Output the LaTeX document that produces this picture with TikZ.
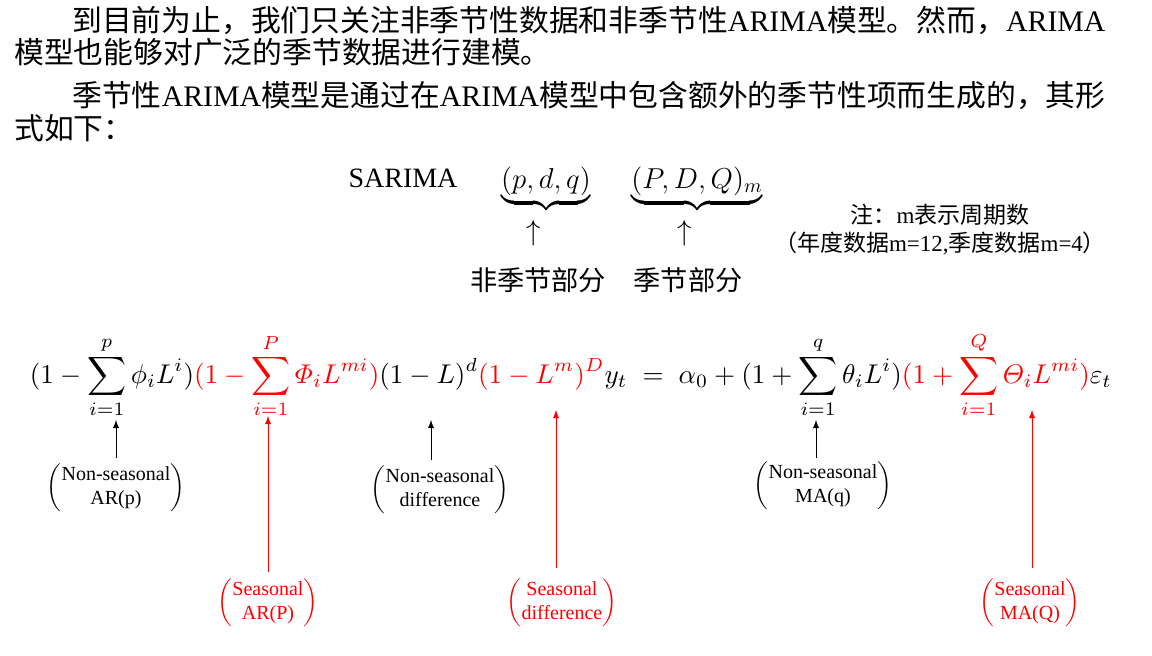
\documentclass[tikz,border=0pt]{standalone}
\usepackage{amsmath}
\usepackage{fontspec}
\setmainfont{Liberation Serif}
\newfontfamily\cjk{Noto Sans CJK SC}
\newfontfamily\lserif{Liberation Serif}
\begin{document}
\begin{tikzpicture}[x=0.5pt,y=-0.5pt,
  para/.style={anchor=west,inner sep=0pt,font=\fontsize{14.9}{17}\selectfont},
  lab/.style={inner sep=0pt,font=\fontsize{10}{12}\selectfont\lserif},
  blk/.style={-latex,black,thin},
  redarr/.style={-latex,red,thin}]
\useasboundingbox (0,0) rectangle (1152,655);
\node[para] (l1) at (72,20) {\cjk 到目前为止，我们只关注非季节性数据和非季节性\lserif ARIMA\cjk 模型。然而，\lserif ARIMA};
\node[para] (l2) at (14,52) {\cjk 模型也能够对广泛的季节数据进行建模。};
\node[para] (l3) at (72,95) {\cjk 季节性\lserif ARIMA\cjk 模型是通过在\lserif ARIMA\cjk 模型中包含额外的季节性项而生成的，其形};
\node[para] (l4) at (14,128) {\cjk 式如下：};
\node[inner sep=0pt,font=\fontsize{14}{16}\selectfont\lserif] (sar) at (403,178) {SARIMA};
\node[inner sep=0pt,font=\fontsize{14}{16}\selectfont,anchor=north] (ns) at (546,166) {$\underbrace{(p,d,q)}$};
\node[inner sep=0pt,font=\fontsize{14}{16}\selectfont,anchor=north] (s) at (697,166) {$\underbrace{(P,D,Q)_m}$};
\node[inner sep=0pt,font=\fontsize{14}{16}\selectfont] (a1) at (534,233) {$\uparrow$};
\node[inner sep=0pt,font=\fontsize{14}{16}\selectfont] (a2) at (685,233) {$\uparrow$};
\node[inner sep=0pt,font=\fontsize{13.6}{16}\selectfont] (t1) at (538,280) {\cjk 非季节部分};
\node[inner sep=0pt,font=\fontsize{13.6}{16}\selectfont] (t2) at (688,280) {\cjk 季节部分};
\node[inner sep=0pt,font=\fontsize{11.5}{13}\selectfont] (n1) at (940,215) {\cjk 注：\lserif m\cjk 表示周期数};
\node[inner sep=0pt,font=\fontsize{11.5}{13}\selectfont] (n2) at (940,243) {\cjk （年度数据\lserif m=12,\cjk 季度数据\lserif m=4\cjk ）};
\node[inner sep=0pt] (eq) at (571,375) {\resizebox{541pt}{!}{$\displaystyle (1-\sum_{i=1}^{p}\phi_iL^i){\color{red}(1-\sum_{i=1}^{P}\varPhi_iL^{mi})}(1-L)^d{\color{red}(1-L^m)^D}y_t\;=\;\alpha_0+(1+\sum_{i=1}^{q}\theta_iL^i){\color{red}(1+\sum_{i=1}^{Q}\varTheta_iL^{mi})}\varepsilon_t$}};
\node[lab] (b1) at (116,488) {$\left(\begin{tabular}{@{}c@{}}Non-seasonal\\AR(p)\end{tabular}\right)$};
\node[lab] (b2) at (440,490) {$\left(\begin{tabular}{@{}c@{}}Non-seasonal\\difference\end{tabular}\right)$};
\node[lab] (b3) at (823,486) {$\left(\begin{tabular}{@{}c@{}}Non-seasonal\\MA(q)\end{tabular}\right)$};
\node[lab,text=red] (r1) at (268,603) {$\left(\begin{tabular}{@{}c@{}}Seasonal\\AR(P)\end{tabular}\right)$};
\node[lab,text=red] (r2) at (562,603) {$\left(\begin{tabular}{@{}c@{}}Seasonal\\difference\end{tabular}\right)$};
\node[lab,text=red] (r3) at (1030,603) {$\left(\begin{tabular}{@{}c@{}}Seasonal\\MA(Q)\end{tabular}\right)$};
\coordinate (c1) at (116,420); \coordinate (c1s) at (116,458);
\coordinate (c2) at (431,420); \coordinate (c2s) at (431,460);
\coordinate (c3) at (816,420); \coordinate (c3s) at (816,458);
\coordinate (d1) at (268,416); \coordinate (d1s) at (268,572);
\coordinate (d2) at (556,410); \coordinate (d2s) at (556,568);
\coordinate (d3) at (1032,410); \coordinate (d3s) at (1032,568);
\draw[blk] (c1s) -- (c1);
\draw[blk] (c2s) -- (c2);
\draw[blk] (c3s) -- (c3);
\draw[redarr] (d1s) -- (d1);
\draw[redarr] (d2s) -- (d2);
\draw[redarr] (d3s) -- (d3);
\end{tikzpicture}
\end{document}
